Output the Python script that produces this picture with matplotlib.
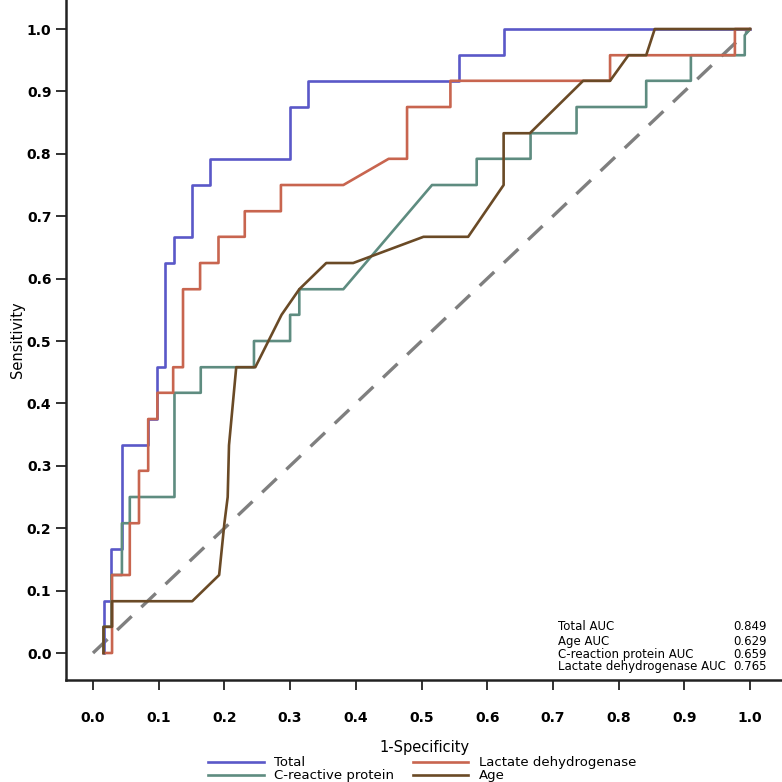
import matplotlib
matplotlib.use("Agg")
import matplotlib.pyplot as plt

# ROC curves (1-specificity, sensitivity)
total_x = [0.016, 0.016, 0.028, 0.028, 0.044, 0.044, 0.084, 0.084, 0.097, 0.097,
           0.110, 0.110, 0.123, 0.123, 0.151, 0.151, 0.178, 0.178, 0.300, 0.300,
           0.328, 0.328, 0.557, 0.557, 0.625, 0.625, 1.0]
total_y = [0.0, 0.083, 0.083, 0.167, 0.167, 0.333, 0.333, 0.375, 0.375, 0.458,
           0.458, 0.625, 0.625, 0.667, 0.667, 0.75, 0.75, 0.792, 0.792, 0.875,
           0.875, 0.917, 0.917, 0.958, 0.958, 1.0, 1.0]

ldh_x = [0.016, 0.029, 0.029, 0.056, 0.056, 0.070, 0.070, 0.084, 0.084, 0.098,
         0.098, 0.122, 0.122, 0.137, 0.137, 0.163, 0.163, 0.191, 0.191, 0.231,
         0.231, 0.286, 0.286, 0.381, 0.450, 0.478, 0.478, 0.544, 0.544, 0.787,
         0.787, 0.977, 0.977, 1.0]
ldh_y = [0.0, 0.0, 0.125, 0.125, 0.208, 0.208, 0.292, 0.292, 0.375, 0.375,
         0.417, 0.417, 0.458, 0.458, 0.583, 0.583, 0.625, 0.625, 0.667, 0.667,
         0.708, 0.708, 0.75, 0.75, 0.792, 0.792, 0.875, 0.875, 0.917, 0.917,
         0.958, 0.958, 1.0, 1.0]

crp_x = [0.016, 0.016, 0.028, 0.028, 0.044, 0.044, 0.056, 0.056, 0.124, 0.124,
         0.164, 0.164, 0.245, 0.245, 0.300, 0.300, 0.314, 0.314, 0.381, 0.516,
         0.584, 0.584, 0.666, 0.666, 0.736, 0.736, 0.842, 0.842, 0.910, 0.910,
         0.992, 0.992, 1.0]
crp_y = [0.0, 0.042, 0.042, 0.125, 0.125, 0.208, 0.208, 0.25, 0.25, 0.417,
         0.417, 0.458, 0.458, 0.5, 0.5, 0.542, 0.542, 0.583, 0.583, 0.75,
         0.75, 0.792, 0.792, 0.833, 0.833, 0.875, 0.875, 0.917, 0.917, 0.958,
         0.958, 0.99, 1.0]

age_x = [0.016, 0.016, 0.029, 0.029, 0.151, 0.192, 0.200, 0.205, 0.207, 0.218,
         0.247, 0.267, 0.287, 0.314, 0.355, 0.396, 0.503, 0.571, 0.625, 0.625,
         0.665, 0.746, 0.787, 0.815, 0.842, 0.855, 1.0]
age_y = [0.0, 0.042, 0.042, 0.083, 0.083, 0.125, 0.208, 0.25, 0.333, 0.458,
         0.458, 0.5, 0.542, 0.583, 0.625, 0.625, 0.667, 0.667, 0.75, 0.833,
         0.833, 0.917, 0.917, 0.958, 0.958, 1.0, 1.0]

auc_names = ["Total AUC", "Age AUC", "C-reaction protein AUC", "Lactate dehydrogenase AUC"]
auc_values = ["0.849", "0.629", "0.659", "0.765"]
ticks = [0.0, 0.1, 0.2, 0.3, 0.4, 0.5, 0.6, 0.7, 0.8, 0.9, 1.0]

fig = plt.figure(figsize=(7.82, 7.82), dpi=100)
ax = fig.add_axes([0.0844, 0.1304, 0.9156, 0.8696])

ax.plot([0, 1], [0, 1], color="#7f7f7f", lw=2.4, dashes=(6, 4))
l_total, = ax.plot(total_x, total_y, color="#5a58c8", lw=1.9, label="Total")
l_crp, = ax.plot(crp_x, crp_y, color="#5e8c80", lw=1.9, label="C-reactive protein")
l_ldh, = ax.plot(ldh_x, ldh_y, color="#c8654f", lw=1.9, label="Lactate dehydrogenase")
l_age, = ax.plot(age_x, age_y, color="#6a4a26", lw=1.9, label="Age")

ax.set_xlim(-0.0411, 1.0487)
ax.set_ylim(-0.0433, 1.0465)
ax.set_xticks(ticks)
ax.set_yticks(ticks)
ax.set_xticklabels([f"{t:.1f}" for t in ticks], fontsize=10, fontweight="bold")
ax.set_yticklabels([f"{t:.1f}" for t in ticks], fontsize=10, fontweight="bold")
ax.tick_params(direction="out", length=7, width=1.3, color="#222222")
ax.tick_params(axis="x", pad=15)
for side in ["top", "right"]:
    ax.spines[side].set_visible(False)
for side in ["left", "bottom"]:
    ax.spines[side].set_linewidth(1.8)
    ax.spines[side].set_color("#222222")

ax.set_xlabel("1-Specificity", fontsize=10.5, labelpad=11)
ax.set_ylabel("Sensitivity", fontsize=10.5, labelpad=1)

# AUC table in the lower right
rows_y = [0.0417, 0.019, -0.002, -0.0224]
for name, val, yy in zip(auc_names, auc_values, rows_y):
    ax.text(0.707, yy, name, fontsize=8.5, va="center", ha="left")
    ax.text(1.026, yy, val, fontsize=8.5, va="center", ha="right")

fig.legend(handles=[l_total, l_crp, l_ldh, l_age], ncol=2, frameon=False,
           loc="lower center", bbox_to_anchor=(0.54, -0.012), fontsize=9.5,
           handlelength=4.2, labelspacing=0.0, columnspacing=1.4,
           handletextpad=0.8, borderpad=0.2)

fig.savefig("out.png", dpi=100)
